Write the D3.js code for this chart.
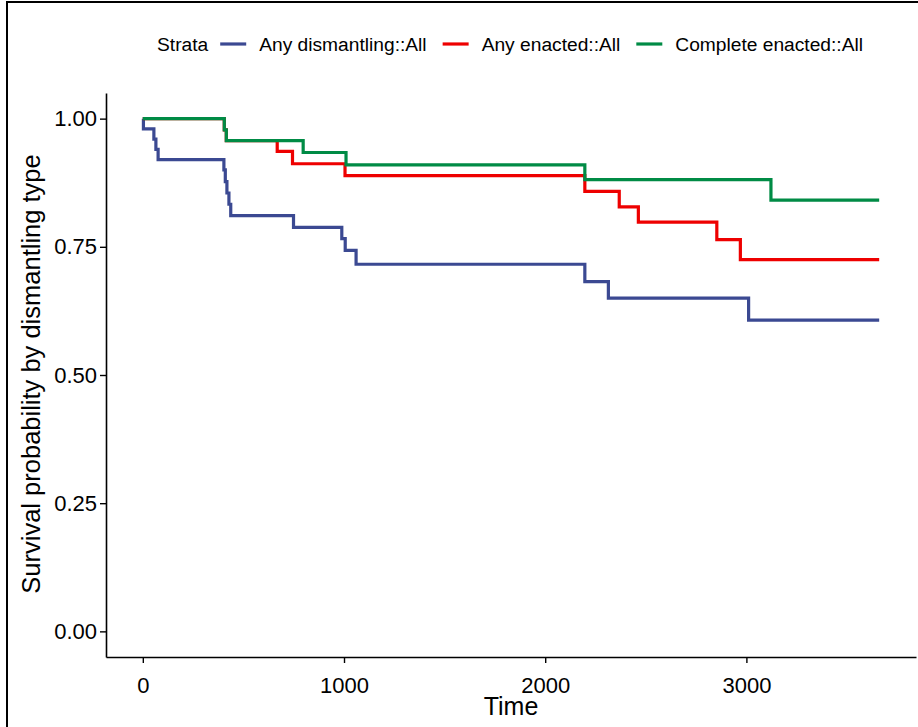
<!DOCTYPE html>
<html>
<head>
<meta charset="utf-8">
<script src="https://cdn.jsdelivr.net/npm/d3@7"></script>
<style>
  body { margin: 0; background: #fff; }
  svg text { font-family: "Liberation Sans", Arial, sans-serif; fill: #000; }
</style>
</head>
<body>
<div id="chart"></div>
<script>
// strata names and colours
var strata = ["Any dismantling::All", "Any enacted::All", "Complete enacted::All"];
var colors = ["#3B4992", "#EE0000", "#008B45"];

// event times (days) and survival after each event
var dismantlingTimes = [0, 3, 55, 65, 76, 403, 410, 418, 428, 437, 749, 989, 1006, 1060, 2197, 2314, 3011, 3660];
var dismantlingSurv  = [1, 0.98, 0.96, 0.94, 0.92, 0.90, 0.877, 0.855, 0.833, 0.811, 0.788, 0.766, 0.743, 0.716, 0.682, 0.650, 0.607, 0.607];

var enactedTimes = [0, 405, 415, 668, 744, 1005, 2197, 2368, 2463, 2853, 2970, 3660];
var enactedSurv  = [1, 0.978, 0.957, 0.936, 0.912, 0.889, 0.858, 0.828, 0.798, 0.764, 0.725, 0.725];

var completeTimes = [0, 405, 415, 797, 1010, 2197, 3122, 3660];
var completeSurv  = [1, 0.978, 0.957, 0.934, 0.910, 0.881, 0.841, 0.841];

var xTicks = [0, 1000, 2000, 3000];
var yTicks = [0, 0.25, 0.5, 0.75, 1];

var series = [
    { name: strata[0], times: dismantlingTimes, surv: dismantlingSurv, color: colors[0] },
    { name: strata[1], times: enactedTimes, surv: enactedSurv, color: colors[1] },
    { name: strata[2], times: completeTimes, surv: completeSurv, color: colors[2] }
];

var width = 918, height = 727;
var margin = { top: 93, right: 2, bottom: 70, left: 106 };

var svg = d3.select("#chart").append("svg")
    .attr("width", width)
    .attr("height", height);

// image frame (only left and top edges are visible in the crop)
svg.append("line").attr("x1", 7).attr("x2", 7).attr("y1", 1).attr("y2", height)
    .attr("stroke", "#000").attr("stroke-width", 2);
svg.append("line").attr("x1", 6).attr("x2", width).attr("y1", 2).attr("y2", 2)
    .attr("stroke", "#000").attr("stroke-width", 2);

// scales with ggplot style 5% expansion
var xMax = 3660;
var x = d3.scaleLinear()
    .domain([-0.05 * xMax, 1.05 * xMax])
    .range([margin.left, width - margin.right]);
var y = d3.scaleLinear()
    .domain([-0.05, 1.05])
    .range([height - margin.bottom, margin.top]);

// survival curves as step lines
var line = d3.line()
    .x(function(d) { return x(d[0]); })
    .y(function(d) { return y(d[1]); })
    .curve(d3.curveStepAfter);

series.forEach(function(s) {
    var pts = s.times.map(function(t, i) { return [t, s.surv[i]]; });
    svg.append("path")
        .datum(pts)
        .attr("fill", "none")
        .attr("stroke", s.color)
        .attr("stroke-width", 3.2)
        .attr("d", line);
});

// axes
var xAxis = svg.append("g")
    .attr("transform", "translate(0," + (height - margin.bottom) + ")")
    .call(d3.axisBottom(x).tickValues(xTicks).tickFormat(d3.format("d"))
        .tickSize(6).tickSizeOuter(0).tickPadding(14));
var yAxis = svg.append("g")
    .attr("transform", "translate(" + margin.left + ",0)")
    .call(d3.axisLeft(y).tickValues(yTicks).tickFormat(d3.format(".2f"))
        .tickSize(6).tickSizeOuter(0).tickPadding(3));

[xAxis, yAxis].forEach(function(a) {
    a.select(".domain").attr("stroke", "#000").attr("stroke-width", 1.6);
    a.selectAll(".tick line").attr("stroke", "#000").attr("stroke-width", 1.4);
    a.selectAll(".tick text").style("font-size", "22px").attr("fill", "#000");
});

// axis titles
svg.append("text")
    .attr("x", (x(0) + x(xMax)) / 2)
    .attr("y", 715)
    .attr("text-anchor", "middle")
    .style("font-size", "25px")
    .text("Time");

svg.append("text")
    .attr("transform", "translate(40," + (y(0.5) - 1) + ") rotate(-90)")
    .attr("text-anchor", "middle")
    .style("font-size", "25.5px")
    .text("Survival probability by dismantling type");

// legend across the top
var legend = svg.append("g").attr("transform", "translate(157,44)");
var title = legend.append("text")
    .attr("x", 0).attr("dy", "0.35em")
    .style("font-size", "19.2px")
    .text("Strata");
var cursor = title.node().getComputedTextLength() + 12;
series.forEach(function(s) {
    legend.append("line")
        .attr("x1", cursor).attr("x2", cursor + 26)
        .attr("stroke", s.color).attr("stroke-width", 3.2);
    cursor += 26 + 13;
    var t = legend.append("text")
        .attr("x", cursor).attr("dy", "0.35em")
        .style("font-size", "19.2px")
        .text(s.name);
    cursor += t.node().getComputedTextLength() + 16;
});
</script>
</body>
</html>
